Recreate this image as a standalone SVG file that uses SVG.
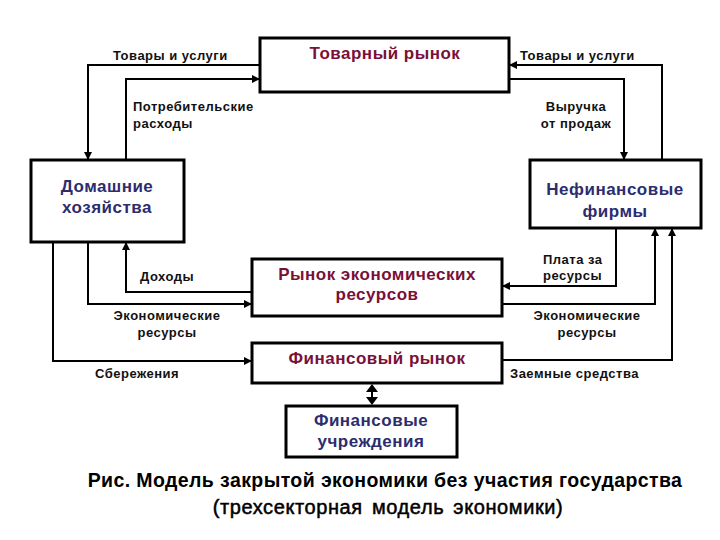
<svg xmlns="http://www.w3.org/2000/svg" width="720" height="540" viewBox="0 0 720 540">
<style>
.box{fill:#fff;stroke:#000;stroke-width:3}
.ln{fill:none;stroke:#000;stroke-width:2}
.lbl{font-family:"Liberation Sans",Arial,sans-serif;font-size:13px;font-weight:bold;fill:#111;letter-spacing:0.5px}
.mkt{font-family:"Liberation Sans",Arial,sans-serif;font-size:17px;font-weight:bold;fill:#7a1038;letter-spacing:0.5px}
.ag{font-family:"Liberation Sans",Arial,sans-serif;font-size:17px;font-weight:bold;fill:#2c2c6e;letter-spacing:0.5px}
.cap{font-family:"Liberation Sans",Arial,sans-serif;font-size:19.5px;font-weight:bold;fill:#000;letter-spacing:0.4px}
.cap2{font-family:"Liberation Sans",Arial,sans-serif;font-size:20px;fill:#000;stroke:#000;stroke-width:0.5px;letter-spacing:0.6px;word-spacing:3px}
</style>
<defs>
<marker id="ar" markerWidth="8" markerHeight="8" refX="7" refY="4" orient="auto" markerUnits="userSpaceOnUse">
<path d="M0,0 L8,4 L0,8 Z" fill="#000"/>
</marker>
</defs>
<rect width="720" height="540" fill="#fff"/>
<g id="connectors">
<path class="ln" d="M260,65 H88 V159" marker-end="url(#ar)"/>
<path class="ln" d="M126,160 V79 H259" marker-end="url(#ar)"/>
<path class="ln" d="M662,160 V65 H510" marker-end="url(#ar)"/>
<path class="ln" d="M509,79 H624 V159" marker-end="url(#ar)"/>
<path class="ln" d="M252,292 H126 V243" marker-end="url(#ar)"/>
<path class="ln" d="M88,242 V304 H251" marker-end="url(#ar)"/>
<path class="ln" d="M53,242 V361 H251" marker-end="url(#ar)"/>
<path class="ln" d="M616,228 V286 H503" marker-end="url(#ar)"/>
<path class="ln" d="M502,304 H655 V229" marker-end="url(#ar)"/>
<path class="ln" d="M502,360 H672 V229" marker-end="url(#ar)"/>
<path class="ln" d="M372,392 V397"/>
<path d="M366,392 L372,384 L378,392 Z M366,397 L372,405 L378,397 Z" fill="#000"/>
</g>
<g id="goods-market">
<rect class="box" x="260" y="38" width="249" height="54"/>
<text class="mkt" x="385" y="59" text-anchor="middle">Товарный рынок</text>
</g>
<g id="households">
<rect class="box" x="31" y="160" width="153" height="82"/>
<text class="ag" x="107" y="192" text-anchor="middle">Домашние</text>
<text class="ag" x="107" y="213" text-anchor="middle">хозяйства</text>
</g>
<g id="firms">
<rect class="box" x="530" y="160" width="171" height="68"/>
<text class="ag" x="615" y="195" text-anchor="middle">Нефинансовые</text>
<text class="ag" x="615" y="217" text-anchor="middle">фирмы</text>
</g>
<g id="resource-market">
<rect class="box" x="252" y="259" width="250" height="57"/>
<text class="mkt" x="377" y="280" text-anchor="middle">Рынок экономических</text>
<text class="mkt" x="377" y="300" text-anchor="middle">ресурсов</text>
</g>
<g id="financial-market">
<rect class="box" x="252" y="343" width="250" height="40"/>
<text class="mkt" x="377" y="364" text-anchor="middle">Финансовый рынок</text>
</g>
<g id="financial-institutions">
<rect class="box" x="286" y="406" width="171" height="51"/>
<text class="ag" x="371" y="426" text-anchor="middle">Финансовые</text>
<text class="ag" x="371" y="447" text-anchor="middle">учреждения</text>
</g>
<g id="labels">
<text class="lbl" x="113" y="60">Товары и услуги</text>
<text class="lbl" x="133" y="111">Потребительские</text>
<text class="lbl" x="133" y="128">расходы</text>
<text class="lbl" x="520" y="60">Товары и услуги</text>
<text class="lbl" x="576" y="111" text-anchor="middle">Выручка</text>
<text class="lbl" x="576" y="128" text-anchor="middle">от продаж</text>
<text class="lbl" x="140" y="281">Доходы</text>
<text class="lbl" x="167" y="320" text-anchor="middle">Экономические</text>
<text class="lbl" x="167" y="337" text-anchor="middle">ресурсы</text>
<text class="lbl" x="95" y="378">Сбережения</text>
<text class="lbl" x="543" y="264">Плата за</text>
<text class="lbl" x="543" y="280">ресурсы</text>
<text class="lbl" x="587" y="320" text-anchor="middle">Экономические</text>
<text class="lbl" x="587" y="337" text-anchor="middle">ресурсы</text>
<text class="lbl" x="510" y="378">Заемные средства</text>
</g>
<g id="caption">
<text class="cap" x="385" y="487" text-anchor="middle">Рис. Модель закрытой экономики без участия государства</text>
<text class="cap2" x="388" y="514" text-anchor="middle">(трехсекторная модель экономики)</text>
</g>
</svg>
